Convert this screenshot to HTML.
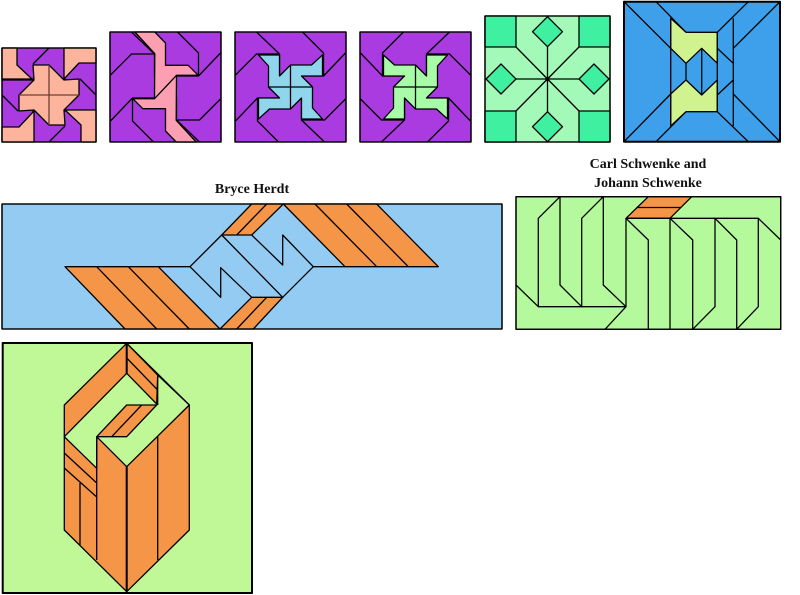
<!DOCTYPE html>
<html><head><meta charset="utf-8"><style>
html,body{margin:0;padding:0;background:#fff;}
svg{display:block;}
text{font-family:"Liberation Serif",serif;font-weight:bold;font-size:14px;fill:#111;}
</style></head><body>
<svg width="800" height="595" viewBox="0 0 800 595" xmlns="http://www.w3.org/2000/svg" stroke="#000" stroke-width="1.3" stroke-linejoin="round" fill="none">
<defs>
<g id="q1">
<polygon points="-47,-47 -32,-47 -32,-30 -16,-15 -47,-15" fill="#fcb49c"/>
<polyline points="0,-47 -16,-31"/>
<polyline points="16,-47 16,-15"/>
</g>
<g id="qp">
<polyline points="-34,-55 -11,-33 -11,-10"/>
<polyline points="-55,-12 -34,-33 -11,-33"/>
</g>
<polygon id="pin" points="-32,-32 -11,-32 -11,-11 0,-22 21,-22 32,-32 32,-11 11,-11 22,0 22,21 32,32 11,32 11,11 0,22 -21,22 -32,32 -32,11 -11,11 -22,0 -22,-21"/>
</defs>

<!-- Square 1 -->
<rect x="2" y="48" width="94" height="94" fill="#a93be0"/>
<g transform="translate(49,95)">
<use href="#q1"/><use href="#q1" transform="rotate(90)"/><use href="#q1" transform="rotate(180)"/><use href="#q1" transform="rotate(270)"/>
<polygon points="-16,-30 0,-30 15,-15 30,-16 30,0 15,15 16,30 0,30 -15,15 -30,16 -30,0 -15,-15" fill="#fcb49c"/>
<line x1="0" y1="-30" x2="0" y2="30" stroke="#6b4030"/>
<line x1="-30" y1="0" x2="30" y2="0" stroke="#6b4030"/>
</g>
<rect x="2" y="48" width="94" height="94"/>

<!-- Square 2 -->
<rect x="110" y="32" width="111" height="110" fill="#a93be0"/>
<g transform="translate(165.5,87)">
<use href="#qp"/><use href="#qp" transform="rotate(90)"/><use href="#qp" transform="rotate(180)"/><use href="#qp" transform="rotate(270)"/>
<polygon points="-30.7,-55 -10.7,-55 0,-44 0,-21.7 22.7,-21.7 32.7,-11.7 11,-11.7 10.7,33.3 30.7,55 10.7,55 0,44 0,21.7 -22.7,21.7 -32.7,11.7 -11,11.7 -10.7,-33.3" fill="#fc9fb3"/>
<line x1="11" y1="-11.7" x2="-11" y2="11.7"/>
</g>
<rect x="110" y="32" width="111" height="110"/>

<!-- Square 3 -->
<rect x="235" y="32" width="111" height="110" fill="#a93be0"/>
<g transform="translate(290.5,87)">
<use href="#qp"/><use href="#qp" transform="rotate(90)"/><use href="#qp" transform="rotate(180)"/><use href="#qp" transform="rotate(270)"/>
<use href="#pin" fill="#8fd6ec"/>
<line x1="0" y1="-22" x2="0" y2="22"/><line x1="-22" y1="0" x2="22" y2="0"/>
</g>
<rect x="235" y="32" width="111" height="110"/>

<!-- Square 4 -->
<rect x="360" y="32" width="111" height="110" fill="#a93be0"/>
<g transform="translate(415.5,87) scale(-1,1)">
<use href="#qp"/><use href="#qp" transform="rotate(90)"/><use href="#qp" transform="rotate(180)"/><use href="#qp" transform="rotate(270)"/>
<use href="#pin" fill="#a8fca8"/>
<line x1="0" y1="-22" x2="0" y2="22"/><line x1="-22" y1="0" x2="22" y2="0"/>
</g>
<rect x="360" y="32" width="111" height="110"/>

<!-- Square 5 -->
<rect x="485" y="16" width="125" height="126" fill="#a3f9b7"/>
<g fill="#3ff0a0">
<rect x="485" y="16" width="31" height="31"/><rect x="579" y="16" width="31" height="31"/>
<rect x="485" y="111" width="31" height="31"/><rect x="579" y="111" width="31" height="31"/>
<polygon points="547.5,16.7 562.5,31.7 547.5,46.7 532.5,31.7"/>
<polygon points="547.5,111.7 562.5,126.7 547.5,141.7 532.5,126.7"/>
<polygon points="501,64 516,79 501,94 486,79"/>
<polygon points="594,64 609,79 594,94 579,79"/>
</g>
<g>
<line x1="547.5" y1="79" x2="516" y2="47"/><line x1="547.5" y1="79" x2="579" y2="47"/>
<line x1="547.5" y1="79" x2="516" y2="111"/><line x1="547.5" y1="79" x2="579" y2="111"/>
<line x1="547.5" y1="46.7" x2="547.5" y2="111.7"/><line x1="516" y1="79" x2="579" y2="79"/>
</g>
<circle cx="547.5" cy="79" r="1.5" fill="#000"/>
<rect x="485" y="16" width="125" height="126"/>

<!-- Square 6 -->
<rect x="624" y="1.7" width="156" height="140" fill="#3ea0ea"/>
<polygon points="670.7,18.3 686,32.3 717.3,32.3 717.3,63.3 701.7,48.3 686,63.3 670.7,48.3" fill="#d0f28f"/>
<polygon points="670.7,94 686,80 701.7,95 717.3,80 717.3,111.7 686,111.7 670.7,126" fill="#d0f28f"/>
<g>
<line x1="624" y1="1.7" x2="670.7" y2="48.3"/><line x1="656" y1="1.7" x2="686" y2="32.3"/>
<line x1="748.3" y1="1.7" x2="717.3" y2="32.3"/><line x1="780" y1="1.7" x2="733.3" y2="48.3"/>
<line x1="624" y1="141.7" x2="670.7" y2="94"/><line x1="656" y1="141.7" x2="686" y2="111.7"/>
<line x1="748.3" y1="141.7" x2="717.3" y2="111.7"/><line x1="780" y1="141.7" x2="733.3" y2="94"/>
<line x1="670.7" y1="18.3" x2="670.7" y2="126"/><line x1="686" y1="63.3" x2="686" y2="80"/>
<line x1="701.7" y1="48.3" x2="701.7" y2="95"/><line x1="717.3" y1="32.3" x2="717.3" y2="111.7"/>
<line x1="733.3" y1="18.3" x2="733.3" y2="126"/>
<line x1="717.3" y1="48.3" x2="733.3" y2="63.3"/><line x1="717.3" y1="95" x2="733.3" y2="80"/>
</g>
<rect x="624" y="1.7" width="156" height="140" stroke-width="2"/>

<!-- Bryce Herdt -->
<text x="252" y="193" text-anchor="middle" stroke="none">Bryce Herdt</text>
<rect x="2" y="204" width="500" height="125" fill="#94cbf2"/>
<g fill="#f59547">
<polygon points="65,266.7 158.3,266.7 220,329 125,329"/>
<polygon points="283.3,204 376.7,204 438.3,266.7 345,266.7"/>
<polygon points="251.7,204 283.3,204 251.7,235 221.7,235"/>
<polygon points="251.7,297.3 282.7,297.3 253.3,329 220,329"/>
</g>
<g>
<line x1="96.7" y1="266.7" x2="156.7" y2="329"/><line x1="128.3" y1="266.7" x2="189.3" y2="329"/>
<line x1="315" y1="204" x2="376.7" y2="266.7"/><line x1="346.7" y1="204" x2="408.3" y2="266.7"/>
<line x1="266.7" y1="204" x2="236.7" y2="235"/><line x1="266.7" y1="297.3" x2="236.7" y2="329"/>
<polyline points="158.3,266.7 190,266.7 221.7,235"/>
<line x1="221.7" y1="235" x2="282.7" y2="297.3"/>
<polyline points="282.7,297.3 313.3,266.7 345,266.7"/>
<polyline points="251.7,235 282.7,265 282.7,235 313.3,266.7"/>
<polyline points="251.7,297.3 220.7,267.7 220.7,297.3 190,266.7"/>
</g>
<rect x="2" y="204" width="500" height="125"/>

<!-- Carl Schwenke and Johann Schwenke -->
<text x="648" y="168" text-anchor="middle" stroke="none">Carl Schwenke and</text>
<text x="648" y="187" text-anchor="middle" stroke="none">Johann Schwenke</text>
<rect x="516" y="196.7" width="264.7" height="132.6" fill="#b5f99d"/>
<polygon points="648.3,196.7 691.7,196.7 670,218.3 626,218.3" fill="#f59547"/>
<g>
<line x1="636.7" y1="207.5" x2="681" y2="207.5"/>
<polyline points="516,285 538.3,306.7 538.3,218.3 560,196.7 560,285 581.7,306.7 581.7,218.3 603.3,196.7 603.3,285 626,306.7 605,329.3"/>
<line x1="538.3" y1="306.7" x2="626" y2="306.7"/>
<line x1="626" y1="218.3" x2="626" y2="306.7"/>
<polyline points="626,218.3 648.3,240 648.3,329.3"/>
<line x1="626" y1="218.3" x2="758.3" y2="218.3"/>
<polyline points="670,218.3 692.7,240 692.7,329.3"/>
<line x1="670" y1="218.3" x2="670" y2="329.3"/>
<polyline points="692.7,329.3 715,306.7 715,218.3 736.7,240 736.7,329.3"/>
<polyline points="736.7,329.3 758.3,306.7 758.3,218.3 780.7,240"/>
</g>
<rect x="516" y="196.7" width="264.7" height="132.6"/>

<!-- Bottom-left panel -->
<rect x="2.7" y="343" width="249.3" height="250" fill="#c0f898"/>
<polygon points="126.7,343.3 189.3,405 189.3,530 126.7,591.7 64.3,530 64.3,405" fill="#f59547"/>
<polygon points="64.3,436.7 126.7,373.3 157.7,405 126.7,405 96.7,436.7 96.7,468.3" fill="#c0f898"/>
<polygon points="96.7,436.7 126.7,436.7 156.7,405 157.7,375 189.3,405 126.7,466.7" fill="#c0f898"/>
<g>
<line x1="126.7" y1="343.3" x2="126.7" y2="373.3" stroke-width="2"/>
<line x1="126.7" y1="358" x2="157.7" y2="390"/>
<line x1="126.7" y1="343.3" x2="157.7" y2="375"/>
<line x1="157.7" y1="375" x2="157.7" y2="405"/>
<line x1="111.7" y1="436.7" x2="141.7" y2="405"/>
<line x1="126.7" y1="466.7" x2="126.7" y2="591.7" stroke-width="2"/>
<line x1="96.7" y1="436.7" x2="96.7" y2="560"/>
<line x1="157.7" y1="436.7" x2="157.7" y2="560"/>
<line x1="80" y1="483" x2="80" y2="545"/>
<line x1="64.3" y1="453" x2="96.7" y2="483"/>
<line x1="64.3" y1="468" x2="96.7" y2="497"/>
</g>
<rect x="2.7" y="343" width="249.3" height="250" stroke-width="2"/>
</svg>
</body></html>
